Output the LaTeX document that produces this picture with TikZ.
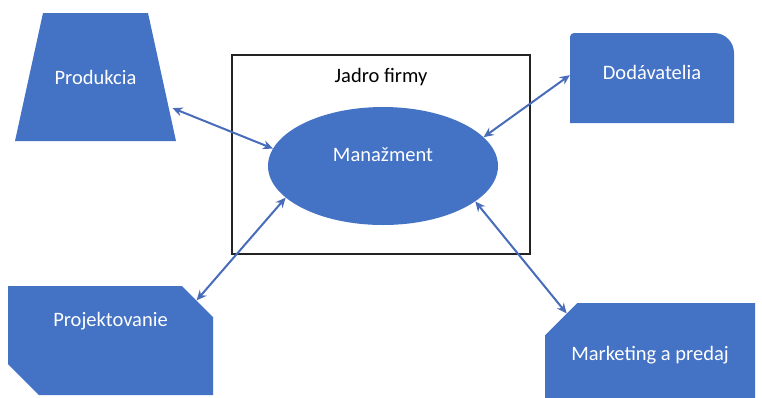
\documentclass[tikz,border=0pt]{standalone}
\usepackage{fontspec}
\setmainfont{Carlito}
\usetikzlibrary{positioning,arrows.meta,shapes.geometric,shapes.misc}
\definecolor{Accent}{RGB}{68,114,196}
\definecolor{LinkBlue}{RGB}{72,108,186}
\definecolor{Frame}{RGB}{35,35,35}

\begin{document}
\begin{tikzpicture}[x=1pt,y=-1pt,
  shapebox/.style={fill=Accent,draw=none,text=white,inner sep=0pt,font=\fontsize{20.5}{24}\selectfont},
  lift/.style={text depth=#1},
  prodbox/.style={shapebox,fill=none,rectangle,minimum width=161pt,minimum height=128pt,
    path picture={\fill[Accent] ([xshift=28pt]path picture bounding box.north west) -- ([xshift=-28pt]path picture bounding box.north east) -- (path picture bounding box.south east) -- (path picture bounding box.south west) -- cycle;}},
  dodbox/.style={shapebox,fill=none,rectangle,minimum width=164pt,minimum height=90pt,
    path picture={\fill[Accent] (path picture bounding box.south west) -- ([yshift=-4pt]path picture bounding box.north west) arc[start angle=180,end angle=90,radius=4pt] -- ([xshift=-20pt]path picture bounding box.north east) arc[start angle=90,end angle=0,radius=20pt] -- (path picture bounding box.south east) -- cycle;}},
  projbox/.style={shapebox,chamfered rectangle,chamfered rectangle corners={north east,south west},chamfered rectangle xsep=15pt,chamfered rectangle ysep=16pt,minimum width=205pt,minimum height=109pt},
  mktbox/.style={shapebox,chamfered rectangle,chamfered rectangle corners={north west},chamfered rectangle xsep=45pt,chamfered rectangle ysep=19pt,minimum width=210pt,minimum height=95pt},
  manbox/.style={shapebox,ellipse,minimum width=230pt,minimum height=118pt},
  corebox/.style={draw=Frame,line width=1.4pt,minimum width=298pt,minimum height=199pt,inner sep=0pt},
  title/.style={inner sep=0pt,font=\fontsize{20.5}{24}\selectfont,text=black},
  link/.style={{Stealth[length=10pt,width=9pt]}-{Stealth[length=10pt,width=9pt]},line width=2pt,LinkBlue}]
\useasboundingbox (0,0) rectangle (762,397);
\fill[white] (0,0) rectangle (762,397);
% core of the firm
\node[corebox] (core) at (381,154.5) {};
\node[title,below=14pt of core.north] (coretitle) {Jadro firmy};
\node[manbox,lift=22pt] (man) at (383,166) {Manažment};
% surrounding units
\node[prodbox] (prod) at (95.5,77) {Produkcia};
\node[dodbox,lift=12pt] (dod) at (652,78) {Dodávatelia};
\node[projbox,lift=42pt] (proj) at (110.5,340.5) {Projektovanie};
\node[mktbox,text height=23pt] (mkt) at (650,350.5) {Marketing a predaj};
% links
\draw[link,shorten <=-4pt] (prod.-22) -- (man.171);
\draw[link] (dod.178) -- (man.16);
\draw[link] (proj.25) -- (man.198);
\draw[link] (mkt.156) -- (man.-21);
\end{tikzpicture}
\end{document}
